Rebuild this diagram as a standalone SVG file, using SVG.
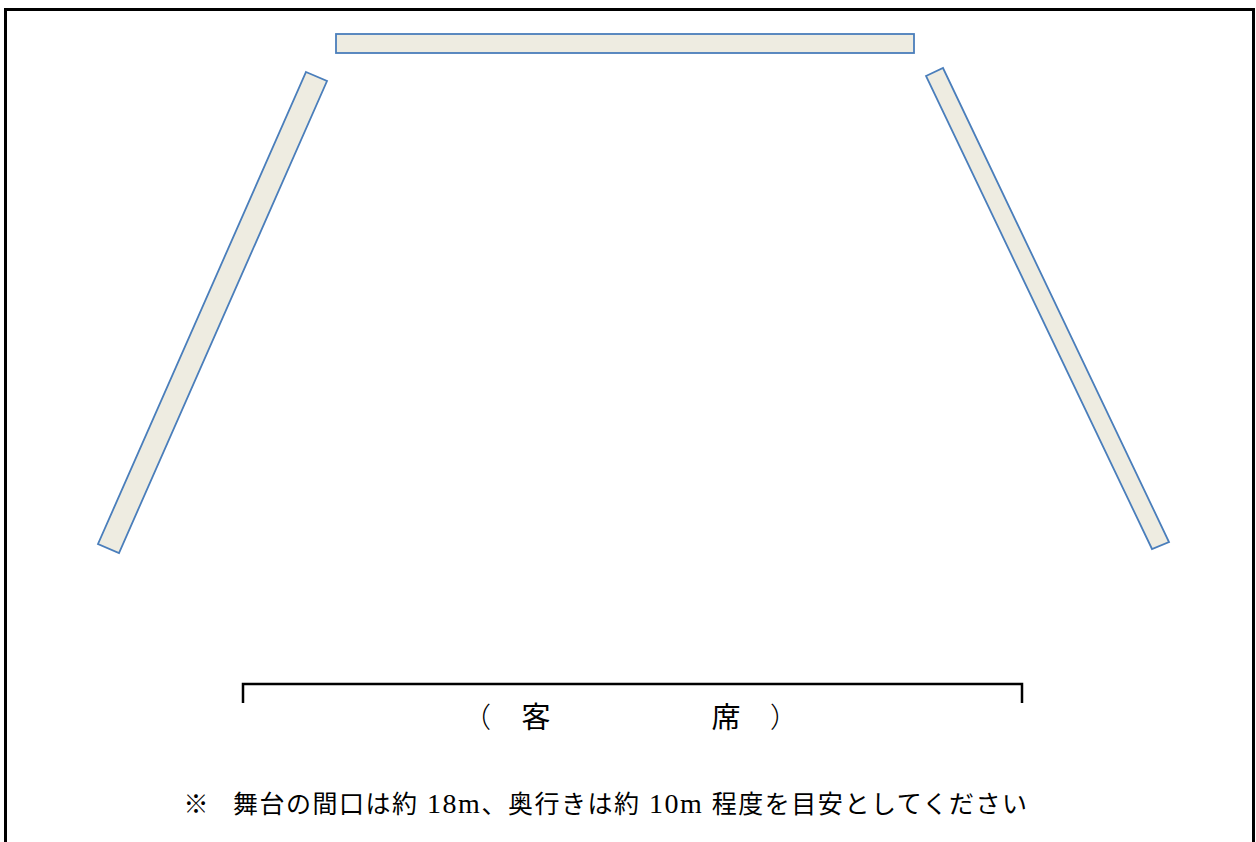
<svg xmlns="http://www.w3.org/2000/svg" width="1256" height="842" viewBox="0 0 1256 842">
<style>
.panel{fill:#EEECE1;stroke:#4A7EBB;stroke-width:1.8;stroke-linejoin:miter}
.txt{font-family:'Liberation Serif','Noto Sans CJK JP',serif;fill:#000}
.lat{font-size:28px}
</style>
<rect x="0" y="0" width="1256" height="842" fill="#fff"/>
<rect id="frame" x="5.5" y="9.5" width="1248" height="845" fill="none" stroke="#000" stroke-width="3"/>
<g id="stage-back"><rect class="panel" x="336" y="34" width="578" height="19"/></g>
<g id="stage-left"><polygon class="panel" points="306,72 327,81 119,553 98,544"/></g>
<g id="stage-right"><polygon class="panel" points="926,76 943,68 1169,542 1152,549"/></g>
<g id="seating">
<path d="M243,703 V684 H1022 V703" fill="none" stroke="#000" stroke-width="2.5"/>
<text class="txt" x="463" y="728" font-size="28" font-weight="300">（</text>
<text class="txt" x="536" y="728" font-size="29" text-anchor="middle">客</text>
<text class="txt" x="726" y="728" font-size="29" text-anchor="middle">席</text>
<text class="txt" x="770" y="728" font-size="28" font-weight="300">）</text>
</g>
<g id="note">
<text class="txt" x="196" y="813" font-size="25" text-anchor="middle">※</text>
<text class="txt" x="233" y="813" font-size="25" textLength="794" lengthAdjust="spacing">舞台の間口は約<tspan class="lat"> 18m</tspan>、奥行きは約<tspan class="lat"> 10m </tspan>程度を目安としてください</text>
</g>
</svg>
